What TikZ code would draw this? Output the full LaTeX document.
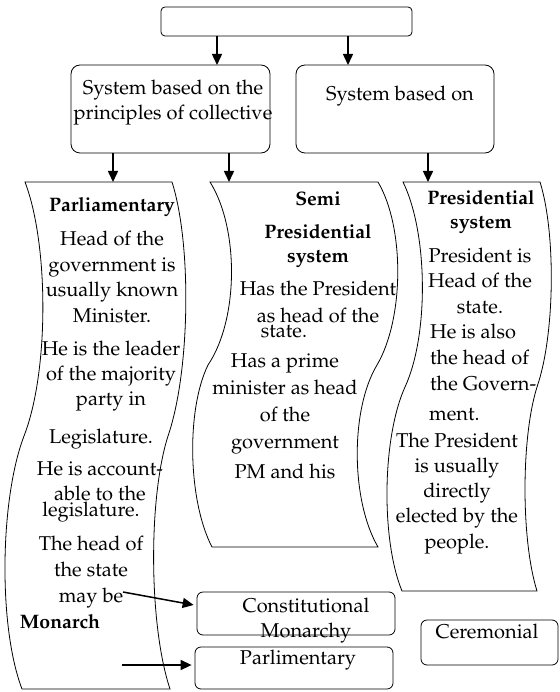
\documentclass[tikz,border=0pt]{standalone}
\usepackage[T1]{fontenc}
\usepackage{mathpazo}
\usepackage{tikz}
\usetikzlibrary{arrows.meta, positioning}

\tikzset{
    box/.style={draw, rounded corners=9pt, line width=0.8pt, inner sep=0pt},
    txt/.style={font=\fontsize{20}{25.5}\selectfont, align=center, inner sep=0pt, anchor=base},
    hd/.style={txt, font=\fontsize{19.5}{24}\selectfont\bfseries},
    tape/.style={line width=0.8pt},
    arr/.style={-{Triangle[length=11pt,width=10pt]}, line width=1.5pt}
}

\begin{document}
\begin{tikzpicture}[x=1pt, y=-1pt]
    \useasboundingbox (0,0) rectangle (559,692);

    % Boxes
    \node[box, rounded corners=4pt, minimum width=251pt, minimum height=29pt] (root) at (286.5,21.5) {};
    \node[box, minimum width=199pt, minimum height=88pt] (sysl) at (170.5,109) {};
    \node[box, minimum width=198pt, minimum height=88pt] (sysr) at (395,109) {};
    % multi-line texts sit on the baseline of their last line
    \node[txt, font=\fontsize{20}{25}\selectfont] (sysl-t) at (173,120) {System based on the\\principles of collective};
    \node[txt] (sysr-t) at (400,101) {System based on};

    % Tapes
    \draw[tape] (25,182) -- (172,182)
        .. controls (192,245) and (190,372) .. (168,436)
        .. controls (148,499) and (149,626) .. (170,689)
        -- (22,689)
        .. controls (-2,626) and (0,499) .. (24,436)
        .. controls (49,372) and (49,245) .. cycle;
    \draw[tape] (210,182) -- (378,182)
        .. controls (405,228) and (404,319) .. (377,365)
        .. controls (350,410) and (351,501) .. (378,547)
        -- (212,547)
        .. controls (188,501) and (186,410) .. (208,365)
        .. controls (239,319) and (239,228) .. cycle;
    \draw[tape] (403,182) -- (540,182)
        .. controls (556,233) and (555,335) .. (537,387)
        .. controls (521,438) and (521,540) .. (537,591)
        -- (402,591)
        .. controls (381,540) and (382,438) .. (405,387)
        .. controls (429,335) and (428,233) .. cycle;

    % Arrow ends
    \coordinate (sysl-in) at (217,65);
    \coordinate (sysr-in) at (348,65);
    \coordinate (parl) at (113,182);
    \coordinate (semi) at (229,182);
    \coordinate (pres) at (428,182);

    \draw[arr] (root.south -| sysl-in) -- (sysl-in);
    \draw[arr] (root.south -| sysr-in) -- (sysr-in);
    \draw[arr] (sysl.south -| parl) -- (parl);
    \draw[arr] (sysl.south -| semi) -- (semi);
    \draw[arr] (sysr.south -| pres) -- (pres);

    % Parliamentary
    \node[hd] (parl-t) at (112,212) {Parliamentary};
    \node[txt] (parl-a) at (112,322) {Head of the\\government is\\usually known\\Minister.};
    \node[txt, font=\fontsize{20}{25}\selectfont] (parl-b) at (111,405) {He is the leader\\of the majority\\party in};
    \node[txt] (parl-c) at (101,443) {Legislature.};
    \node[txt, font=\fontsize{20}{25}\selectfont] (parl-d) at (100,500) {He is account-\\able to the};
    \node[txt] (parl-e) at (91,516) {legislature.};
    \node[txt, font=\fontsize{20}{26}\selectfont] (parl-f) at (91,602) {The head of\\the state\\may be};
    \node[hd] (parl-g) at (60,628) {Monarch};

    % Semi presidential
    \node[hd] (semi-t) at (318,206) {Semi};
    \node[hd] (semi-u) at (318,262) {Presidential\\system};
    \node[txt, font=\fontsize{20}{27}\selectfont] (semi-a) at (318,322) {Has the President\\as head of the};
    \node[txt] (semi-b) at (284,337) {state.};
    \node[txt, font=\fontsize{20}{26.7}\selectfont] (semi-c) at (285,448) {Has a prime\\minister as head\\of the\\government};
    \node[txt] (semi-d) at (285,478) {PM and his};

    % Presidential
    \node[hd] (pres-t) at (481,229) {Presidential\\system};
    \node[txt] (pres-a) at (480,313) {President is\\Head of the\\state.};
    \node[txt, font=\fontsize{20}{26}\selectfont, align=left, anchor=base west] (pres-b) at (430,390) {He is also\\the head of\\the Govern-};
    \node[txt, anchor=base west] (pres-c) at (429,420) {ment.};
    \node[txt, font=\fontsize{20}{25.25}\selectfont] (pres-d) at (457,548) {The President\\is usually\\directly\\elected by the\\people.};

    % Lower boxes
    \node[box, rounded corners=6pt, minimum width=198pt, minimum height=43pt] (const) at (296,613.5) {};
    \node[box, rounded corners=6pt, minimum width=198pt, minimum height=42pt] (parlbox) at (294,668) {};
    \node[box, rounded corners=6pt, minimum width=137pt, minimum height=45pt] (cer) at (489.5,642.5) {};
    \node[txt, font=\fontsize{20}{25}\selectfont] (const-t) at (306,637) {Constitutional\\Monarchy};
    \node[txt] (parlbox-t) at (298,664) {Parlimentary};
    \node[txt] (cer-t) at (487,638) {Ceremonial};

    \coordinate (maybe-out) at (123,592);
    \coordinate (parl-out) at (122,665);
    \draw[arr, shorten >=3pt] (maybe-out) -- ([yshift=8pt]const.west);
    \draw[arr, shorten >=3pt] (parl-out) -- (parlbox.west |- parl-out);
\end{tikzpicture}
\end{document}
